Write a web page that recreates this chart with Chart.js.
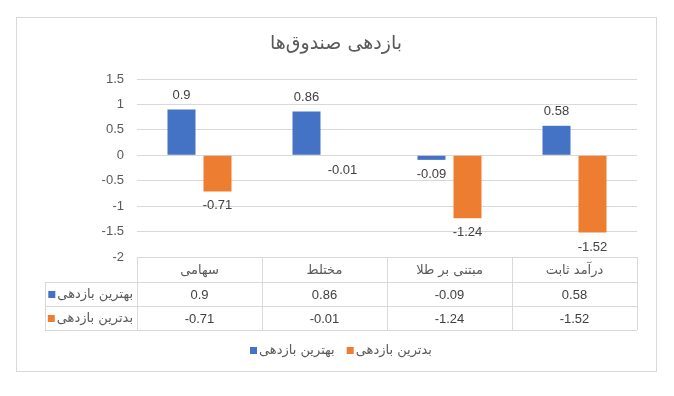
<!DOCTYPE html>
<html>
<head>
<meta charset="utf-8">
<script src="https://cdn.jsdelivr.net/npm/chart.js@4/dist/chart.umd.min.js"></script>
<style>
  body { margin: 0; background: #ffffff; }
</style>
</head>
<body>
<canvas id="chart_funds" width="674" height="396"></canvas>
<script>
// categories and series
let fundLabels = ["سهامی", "مختلط", "مبتنی بر طلا", "درآمد ثابت"];
let bestName = "بهترین بازدهی";
let worstName = "بدترین بازدهی";
let bestData = [0.9, 0.86, -0.09, 0.58];
let worstData = [-0.71, -0.01, -1.24, -1.52];
let yTicks = [1.5, 1, 0.5, 0, -0.5, -1, -1.5, -2];

let blue = "#4472c4";
let orange = "#ed7d31";
let gridGray = "#d9d9d9";
let textGray = "#595959";
let numFont = "13px 'Liberation Sans', 'DejaVu Sans', sans-serif";
let faFont = "13px 'DejaVu Sans', sans-serif";

// -----------------EXTRAS (title, labels, data table, legend)-----------------
let extrasPlugin = {
    id: "extras",
    beforeDraw(chart) {
        let ctx = chart.ctx;
        ctx.save();
        ctx.fillStyle = "#ffffff";
        ctx.fillRect(0, 0, chart.width, chart.height);
        ctx.restore();
    },
    afterDraw(chart) {
        let ctx = chart.ctx;
        let area = chart.chartArea;
        let xs = chart.scales.x;
        ctx.save();

        // outer border
        ctx.strokeStyle = gridGray;
        ctx.lineWidth = 1;
        ctx.strokeRect(16.5, 17.5, 640, 354);

        // title
        ctx.fillStyle = textGray;
        ctx.font = "19px 'DejaVu Sans', sans-serif";
        ctx.textAlign = "center";
        ctx.textBaseline = "middle";
        ctx.fillText("بازدهی صندوق‌ها", 336, 44);

        // value labels
        ctx.font = numFont;
        ctx.fillStyle = "#404040";
        chart.data.datasets.forEach((ds, i) => {
            chart.getDatasetMeta(i).data.forEach((bar, j) => {
                let v = ds.data[j];
                if (v >= 0) {
                    ctx.textBaseline = "bottom";
                    ctx.fillText(String(v), bar.x, bar.y - 8);
                } else {
                    ctx.textBaseline = "top";
                    ctx.fillText(String(v), bar.x, bar.y + 8);
                }
            });
        });

        // data table
        let colW = (area.right - area.left) / fundLabels.length;
        let top = area.bottom;
        let rowH = [25, 24, 24];
        let r1 = top + rowH[0];
        let r2 = r1 + rowH[1];
        let r3 = r2 + rowH[2];
        let keyLeft = 45;

        ctx.strokeStyle = gridGray;
        ctx.beginPath();
        ctx.moveTo(area.left, top + 0.5); ctx.lineTo(area.right, top + 0.5);
        [r1, r2, r3].forEach(y => {
            ctx.moveTo(keyLeft, y + 0.5); ctx.lineTo(area.right, y + 0.5);
        });
        for (let i = 0; i <= fundLabels.length; i++) {
            let x = Math.round(area.left + i * colW) + 0.5;
            ctx.moveTo(x, top); ctx.lineTo(x, r3);
        }
        ctx.moveTo(keyLeft + 0.5, r1); ctx.lineTo(keyLeft + 0.5, r3);
        ctx.stroke();

        ctx.textBaseline = "middle";
        ctx.textAlign = "center";
        ctx.fillStyle = textGray;
        ctx.font = faFont;
        fundLabels.forEach((lab, i) => {
            ctx.fillText(lab, xs.getPixelForValue(i), top + rowH[0] / 2 + 1);
        });
        ctx.font = numFont;
        ctx.fillStyle = "#404040";
        bestData.forEach((v, i) => {
            ctx.fillText(String(v), xs.getPixelForValue(i), r1 + rowH[1] / 2 + 1);
        });
        worstData.forEach((v, i) => {
            ctx.fillText(String(v), xs.getPixelForValue(i), r2 + rowH[2] / 2 + 1);
        });

        // row keys
        ctx.font = faFont;
        ctx.textAlign = "right";
        [[bestName, blue, r1], [worstName, orange, r2]].forEach(row => {
            let cy = row[2] + 12;
            ctx.fillStyle = textGray;
            ctx.fillText(row[0], area.left - 4, cy + 1);
            let w = ctx.measureText(row[0]).width;
            ctx.fillStyle = row[1];
            ctx.fillRect(area.left - 4 - w - 9, cy - 3, 7, 7);
        });

        // legend
        ctx.textAlign = "left";
        let lx = 250;
        let ly = 350;
        [[bestName, blue], [worstName, orange]].forEach(item => {
            ctx.fillStyle = item[1];
            ctx.fillRect(lx, ly - 3, 7, 7);
            ctx.fillStyle = textGray;
            ctx.fillText(item[0], lx + 9, ly + 1);
            lx += 9 + ctx.measureText(item[0]).width + 12;
        });

        ctx.restore();
    }
};

var ChartFunds = new Chart("chart_funds", {
    type: "bar",
    data: {
        labels: fundLabels,
        datasets: [{
            label: bestName,
            data: bestData,
            backgroundColor: blue,
            categoryPercentage: 0.576,
            barPercentage: 0.778
        }, {
            label: worstName,
            data: worstData,
            backgroundColor: orange,
            categoryPercentage: 0.576,
            barPercentage: 0.778
        }]
    },
    options: {
        responsive: false,
        animation: false,
        layout: {
            padding: { top: 79, bottom: 139, left: 0, right: 37 }
        },
        plugins: {
            legend: { display: false },
            tooltip: { enabled: false },
            title: { display: false }
        },
        scales: {
            x: {
                display: false
            },
            y: {
                min: yTicks[yTicks.length - 1],
                max: yTicks[0],
                afterFit: s => { s.width = 137; },
                afterBuildTicks: s => { s.ticks = yTicks.map(v => ({ value: v })); },
                ticks: {
                    color: textGray,
                    padding: 13,
                    font: { family: "'Liberation Sans', 'DejaVu Sans', sans-serif", size: 13 },
                    callback: v => String(v)
                },
                grid: {
                    color: gridGray,
                    drawTicks: false
                },
                border: { display: false }
            }
        }
    },
    plugins: [extrasPlugin]
});
</script>
</body>
</html>
